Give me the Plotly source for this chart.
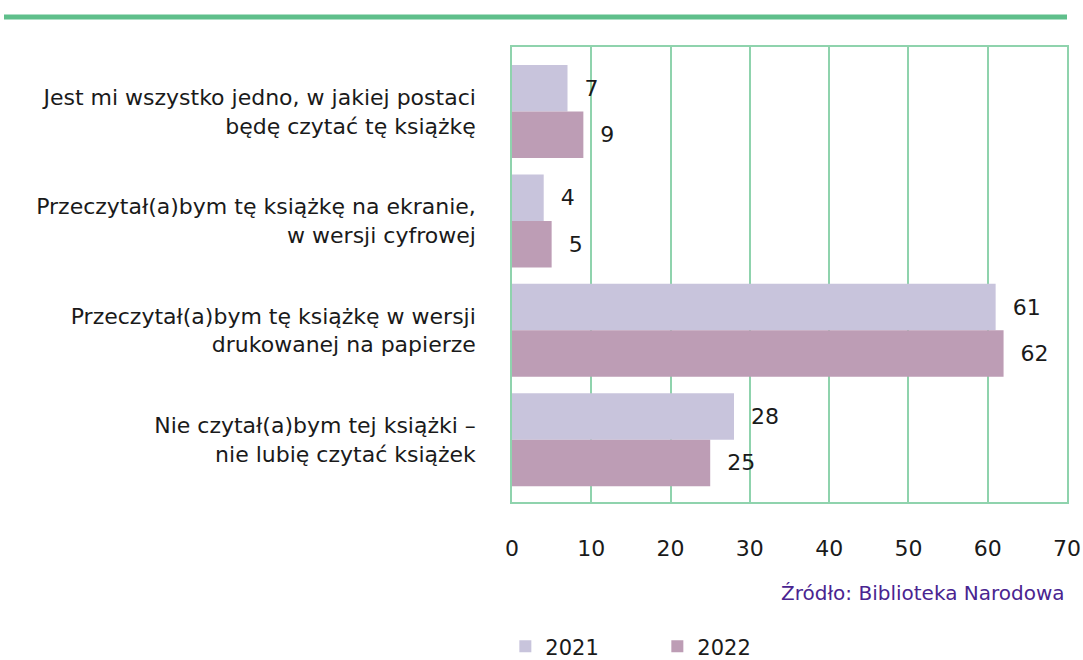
import plotly.graph_objects as go

categories = [
    "Jest mi wszystko jedno, w jakiej postaci<br>będę czytać tę książkę",
    "Przeczytał(a)bym tę książkę na ekranie,<br>w wersji cyfrowej",
    "Przeczytał(a)bym tę książkę w wersji<br>drukowanej na papierze",
    "Nie czytał(a)bym tej książki –<br>nie lubię czytać książek",
]
values_2021 = [7, 4, 61, 28]
values_2022 = [9, 5, 62, 25]
x_ticks = [0, 10, 20, 30, 40, 50, 60, 70]

FONT = "DejaVu Sans"
GREEN = "#8fd3ad"
TXT = "#1a1a1a"

fig = go.Figure()
fig.add_trace(go.Bar(
    name="2021", y=categories, x=values_2021, orientation="h",
    marker=dict(color="#c8c4dc", line=dict(width=0)),
    text=values_2021, texttemplate="  %{x}", textposition="outside",
    textfont=dict(family=FONT, size=22, color=TXT), cliponaxis=False,
))
fig.add_trace(go.Bar(
    name="2022", y=categories, x=values_2022, orientation="h",
    marker=dict(color="#bd9db5", line=dict(width=0)),
    text=values_2022, texttemplate="  %{x}", textposition="outside",
    textfont=dict(family=FONT, size=22, color=TXT), cliponaxis=False,
))

fig.update_layout(
    width=1083, height=660,
    margin=dict(l=512, r=16, t=47, b=158, autoexpand=False),
    paper_bgcolor="white", plot_bgcolor="white",
    barmode="group", bargap=0.15, bargroupgap=0,
    font=dict(family=FONT, size=22, color=TXT),
    showlegend=True,
    legend=dict(
        orientation="h", x=-0.012, xanchor="left", y=-0.318, yanchor="middle",
        font=dict(family=FONT, size=21, color=TXT),
        entrywidth=107, traceorder="normal",
    ),
    xaxis=dict(
        range=[0, 70], tickvals=x_ticks, showgrid=True, gridcolor=GREEN, gridwidth=1.5,
        zeroline=False, showline=True, linecolor=GREEN, linewidth=1.5, mirror=True,
        ticks="", ticklabelstandoff=26,
        tickfont=dict(family=FONT, size=22, color=TXT),
        fixedrange=True,
    ),
    yaxis=dict(
        categoryorder="array", categoryarray=categories,
        range=[3.57, -0.59], showgrid=False, zeroline=False,
        showline=True, linecolor=GREEN, linewidth=1.5, mirror=True,
        ticks="", ticklabelstandoff=30,
        tickfont=dict(family=FONT, size=22, color=TXT),
        fixedrange=True,
    ),
)

fig.add_shape(type="line", xref="paper", yref="paper",
              x0=-508 / 555, x1=1.0, y0=1 + 30 / 455, y1=1 + 30 / 455,
              line=dict(color="#5fbf8b", width=5))

fig.add_annotation(
    text="Źródło: Biblioteka Narodowa", xref="paper", yref="paper",
    x=1.0, xanchor="right", y=-0.2, yanchor="middle", showarrow=False,
    font=dict(family=FONT, size=20, color="#4a2490"),
)

fig.write_html("out.html", config={"displayModeBar": False},
               post_script="document.body.style.margin='0';")
